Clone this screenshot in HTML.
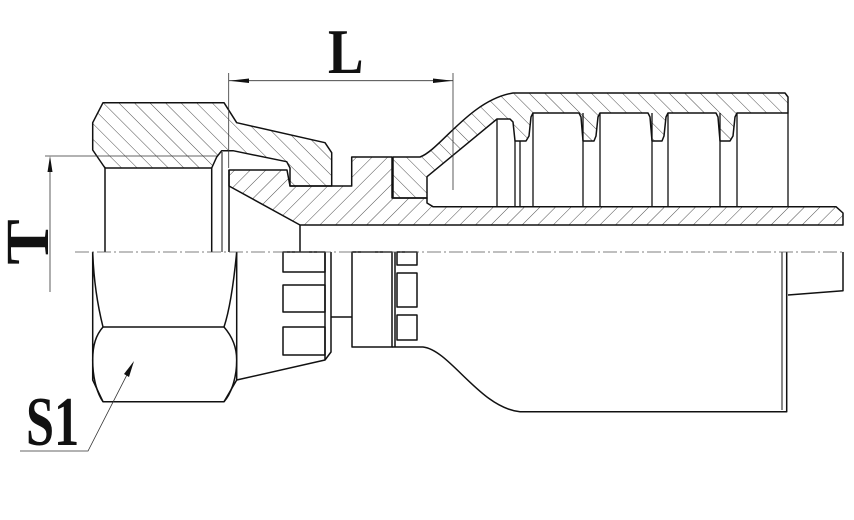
<!DOCTYPE html>
<html><head><meta charset="utf-8"><style>
html,body{margin:0;padding:0;background:#fff;}
svg{display:block;}
</style></head><body>
<svg width="854" height="520" viewBox="0 0 854 520" xmlns="http://www.w3.org/2000/svg">
<defs>
<pattern id="hf" patternUnits="userSpaceOnUse" width="11" height="11" patternTransform="rotate(45)">
<line x1="0" y1="0" x2="0" y2="11" stroke="#222" stroke-width="0.8"/></pattern>
<pattern id="hb" patternUnits="userSpaceOnUse" width="11" height="11" patternTransform="rotate(-45)">
<line x1="0" y1="0" x2="0" y2="11" stroke="#222" stroke-width="0.8"/></pattern>
</defs>
<g fill="none" stroke="#111" stroke-width="1.5" stroke-linejoin="round">
<path fill="url(#hb)" d="M92.7,150 L92.7,122.7 L103,102.7 L224,102.7 L236.7,122.7 L325,142.7 L331.7,152.7 L331.7,186 L290,186 L290,168 L286.7,161.7 L233,150.7 L221.7,150.7 L216.7,157 L211.7,168 L105,168 Z"/>
<line x1="105" y1="168" x2="105" y2="252"/>
<line x1="211.7" y1="168" x2="211.7" y2="252"/>
<line x1="222" y1="152" x2="222" y2="252" stroke-width="1"/>
<path fill="url(#hf)" d="M229,170 L287,170 L290,186 L351.7,186 L351.7,157 L392,157 L392,198 L427,198 L427,203 L433,206.7 L836,206.7 L843,213 L843,225 L300,225 L229,186 Z"/>
<line x1="300" y1="225" x2="300" y2="252"/>
<line x1="229" y1="170" x2="229" y2="252"/>
<path fill="url(#hb)" d="M393,157 L420,157 C440,150 470,100 513,93 L785,93 L788,97 L788,113 L737,113 L735,117 L733,136 L730,141 L720,141 L718,117 L716,113 L668,113 L666,117 L664,136 L662,141 L652,141 L650,117 L648,113 L600,113 L598,117 L596,136 L594,141 L583,141 L581,117 L579,113 L533,113 L531,117 L529,136 L526,141 L515,141 L513,122 L510,119 L497,119 L427,176.7 L427,198 L393,198 Z"/>
<g stroke-width="1.3">
<line x1="497" y1="119" x2="497" y2="207"/>
<line x1="515" y1="141" x2="515" y2="207"/>
<line x1="520" y1="141" x2="520" y2="207"/>
<line x1="533" y1="113" x2="533" y2="207"/>
<line x1="583" y1="113" x2="583" y2="207"/>
<line x1="600" y1="113" x2="600" y2="207"/>
<line x1="652" y1="113" x2="652" y2="207"/>
<line x1="668" y1="113" x2="668" y2="207"/>
<line x1="720" y1="113" x2="720" y2="207"/>
<line x1="737" y1="113" x2="737" y2="207"/>
<line x1="788" y1="113" x2="788" y2="207"/>
</g>
<path d="M92.7,252 L92.7,380 L103,401.7 L224,401.7 L236.7,380 L236.7,252"/>
<path d="M92.7,252 C94,290 100,315 103,327 L224,327 C228,315 233,290 236.7,252"/>
<path d="M103,327 C96,335 92.7,345 92.7,360 C92.7,380 98,395 103,401.7"/>
<path d="M224,327 C231,335 236.7,345 236.7,360 C236.7,380 230,395 224,401.7"/>
<path d="M236.7,380 L325,360 L331,352 L331,252"/>
<line x1="325" y1="252" x2="325" y2="360"/>
<rect x="283" y="252" width="42" height="20"/>
<rect x="283" y="285" width="42" height="27"/>
<rect x="283" y="327" width="42" height="28"/>
<path d="M331,317 L352,317"/>
<rect x="352" y="252" width="40" height="95"/>
<line x1="395" y1="252" x2="395" y2="347"/>
<rect x="397" y="252" width="20" height="13"/>
<rect x="397" y="273" width="20" height="34"/>
<rect x="397" y="315" width="20" height="25"/>
<path d="M392,347 L423,347 C450,350 480,408 520,411.7 L786.7,411.7 L786.7,252"/>
<line x1="782" y1="252" x2="782" y2="410" stroke-width="1"/>
<path d="M788,295 L843,290.7 L843,252"/>
</g>
<line x1="75" y1="252" x2="845" y2="252" stroke="#555" stroke-width="0.8" stroke-dasharray="14,3,2,3"/>
<g stroke="#333" stroke-width="0.8">
<line x1="228.7" y1="73" x2="228.7" y2="168"/>
<line x1="453" y1="73" x2="453" y2="190"/>
<line x1="229" y1="80.7" x2="453" y2="80.7"/>
<line x1="45" y1="156" x2="217" y2="156"/>
<line x1="50" y1="160" x2="50" y2="292"/>
<polyline fill="none" points="20,451 88,451 133,363"/>
</g>
<polygon points="229,80.7 249,78.5 249,83" fill="#111"/>
<polygon points="453,80.7 433,78.5 433,83" fill="#111"/>
<polygon points="50,156 47.5,172 52.5,172" fill="#111"/>
<polygon points="134,361 124,374 129,377" fill="#111"/>
<g font-family="Liberation Serif, serif" font-weight="bold" fill="#111">
<text transform="translate(328,73) scale(0.83,1)" font-size="64">L</text>
<text transform="translate(48,242) rotate(-90) scale(1,0.9)" font-size="68" text-anchor="middle">T</text>
<text transform="translate(26,445) scale(0.72,1)" font-size="70">S1</text>
</g>
</svg>
</body></html>
